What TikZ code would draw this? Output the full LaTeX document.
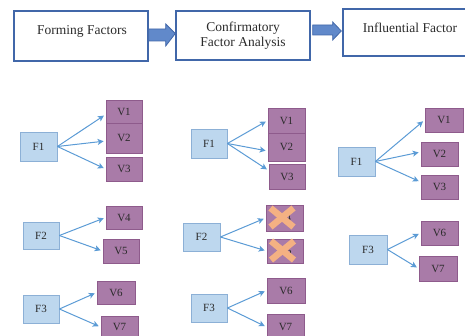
\documentclass[tikz,border=0pt]{standalone}
\usepackage{fontspec}
\setmainfont{Liberation Serif}
\usetikzlibrary{arrows.meta,calc}
\definecolor{topblue}{HTML}{4167A9}
\definecolor{blkfill}{HTML}{6189CA}
\definecolor{ffill}{HTML}{BDD7EE}
\definecolor{fdraw}{HTML}{8CB0D6}
\definecolor{vfill}{HTML}{A97BA8}
\definecolor{vdraw}{HTML}{8E5B8C}
\definecolor{arr}{HTML}{5B9BD5}
\definecolor{txt}{HTML}{2B2B2B}
\definecolor{xorange}{HTML}{F4B183}
\tikzset{
  topbox/.style={draw=topblue, line width=1.4pt, fill=white, inner sep=0pt},
  toptext/.style={font=\fontsize{13.5}{15}\selectfont, text=txt, align=center, inner sep=0pt},
  blockarr/.style={draw=topblue, fill=blkfill, line width=0.8pt, line join=miter},
  fbox/.style={draw=fdraw, fill=ffill, line width=0.8pt, inner sep=0pt, font=\fontsize{11}{13}\selectfont, text=txt},
  vbox/.style={draw=vdraw, fill=vfill, line width=0.8pt, inner sep=0pt, font=\fontsize{11}{13}\selectfont, text=txt},
  link/.style={draw=arr, line width=1pt, -{Stealth[length=6pt,width=6pt,inset=1.5pt]}, shorten >=2pt},
  xmark/.style={draw=xorange, line width=6.5pt, line cap=butt},
}
\newcommand{\fnode}[5]{\node[fbox, minimum width=#3, minimum height=#4] (#1) at #2 {#5};}
\newcommand{\vnode}[5]{\node[vbox, minimum width=#3, minimum height=#4] (#1) at #2 {#5};}
\begin{document}
\begin{tikzpicture}[x=1pt,y=-1pt]
\useasboundingbox (0,0) rectangle (465,336);
\clip (0,0) rectangle (465,336);
% top row
\node[topbox, minimum width=134, minimum height=50] (b1) at (81,36) {};
\node[toptext] (t1) at (82,31) {Forming Factors};
\node[topbox, minimum width=134, minimum height=49] (b2) at (243,35.5) {};
\node[toptext] (t2) at (243,36) {Confirmatory\\Factor Analysis};
\node[topbox, minimum width=140, minimum height=47] (b3) at (413,32.5) {};
\node[toptext] (t3) at (410,28) {Influential Factor};
% block arrows
\draw[blockarr] ($(b1.east)+(0,-7)$) -- ++(17,0) -- ++(0,-5) -- ($(b2.west)+(0,-2)$) -- ($(b1.east)+(17,10)$) -- ++(0,-5) -- ($(b1.east)+(0,5)$) -- cycle;
\draw[blockarr] ($(b2.east)+(2,-10.5)$) -- ++(20,0) -- ++(0,-3) -- ($(b3.west)+(-1,-1.5)$) -- ($(b2.east)+(22,4.5)$) -- ++(0,-5) -- ($(b2.east)+(2,-0.5)$) -- cycle;
% left column
\fnode{F1a}{(38.5,146.5)}{37}{29}{F1}
\vnode{V1a}{(124,111.5)}{36}{23}{V1}
\vnode{V2a}{(124,138)}{36}{30}{V2}
\vnode{V3a}{(124,169)}{36}{24}{V3}
\fnode{F2a}{(41,235.5)}{36}{27}{F2}
\vnode{V4a}{(124,217.5)}{36}{23}{V4}
\vnode{V5a}{(121,251)}{36}{24}{V5}
\fnode{F3a}{(41,309)}{36}{28}{F3}
\vnode{V6a}{(116,292.5)}{38}{23}{V6}
\vnode{V7a}{(119.5,327)}{37}{22}{V7}
\draw[link] (F1a.east) -- ($(V1a.west)+(0,3)$);
\draw[link] (F1a.east) -- ($(V2a.west)+(0,3)$);
\draw[link] (F1a.east) -- (V3a.west);
\draw[link] (F2a.east) -- (V4a.west);
\draw[link] (F2a.east) -- (V5a.west);
\draw[link] (F3a.east) -- (V6a.west);
\draw[link] (F3a.east) -- (V7a.west);
% middle column
\fnode{F1b}{(209,143.5)}{36}{29}{F1}
\vnode{V1b}{(286.5,120.5)}{37}{25}{V1}
\vnode{V2b}{(286.5,147)}{37}{28}{V2}
\vnode{V3b}{(287,176.5)}{36}{25}{V3}
\fnode{F2b}{(201.5,237)}{37}{28}{F2}
\vnode{V4b}{(284.5,218)}{37}{26}{V4}
\vnode{V5b}{(285,251)}{36}{24}{V5}
\fnode{F3b}{(209,308)}{36}{28}{F3}
\vnode{V6b}{(286,290.5)}{38}{25}{V6}
\vnode{V7b}{(285.5,327)}{37}{26}{V7}
\draw[link] (F1b.east) -- (V1b.west);
\draw[link] (F1b.east) -- ($(V2b.west)+(0,4)$);
\draw[link] (F1b.east) -- ($(V3b.west)+(0,-6)$);
\draw[link] (F2b.east) -- (V4b.west);
\draw[link] (F2b.east) -- (V5b.west);
\draw[link] (F3b.east) -- (V6b.west);
\draw[link] (F3b.east) -- (V7b.west);
\draw[xmark] ($(V4b.center)+(-14,-10)$) -- ($(V4b.center)+(9,9)$);
\draw[xmark] ($(V4b.center)+(9,-10)$) -- ($(V4b.center)+(-14,9)$);
\draw[xmark] ($(V5b.center)+(-14,-10)$) -- ($(V5b.center)+(9,9)$);
\draw[xmark] ($(V5b.center)+(9,-10)$) -- ($(V5b.center)+(-14,9)$);
% right column
\fnode{F1c}{(356.5,161.5)}{37}{29}{F1}
\vnode{V1c}{(444,120)}{38}{24}{V1}
\vnode{V2c}{(439.5,154)}{37}{24}{V2}
\vnode{V3c}{(439.5,187)}{37}{24}{V3}
\fnode{F3c}{(368,249.5)}{38}{29}{F3}
\vnode{V6c}{(439.5,233)}{37}{24}{V6}
\vnode{V7c}{(438,268.5)}{38}{25}{V7}
\draw[link] (F1c.east) -- (V1c.west);
\draw[link] (F1c.east) -- ($(V2c.west)+(0,-2)$);
\draw[link] (F1c.east) -- ($(V3c.west)+(0,-5)$);
\draw[link] (F3c.east) -- (V6c.west);
\draw[link] (F3c.east) -- (V7c.west);
\end{tikzpicture}
\end{document}
